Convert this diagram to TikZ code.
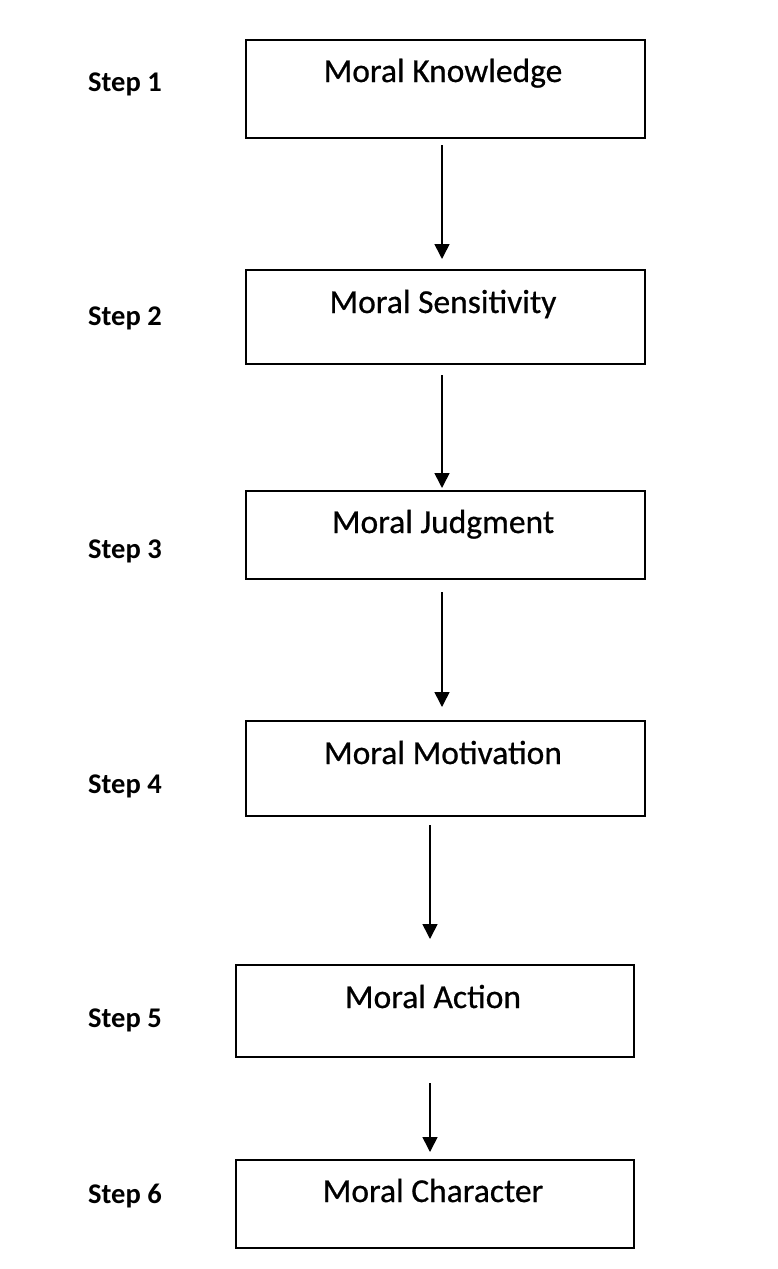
\documentclass[tikz,border=0pt]{standalone}
\usepackage{fontspec}
\setmainfont{Carlito}
\newfontfamily\boxfont[FakeBold=0.6]{Carlito}
\usetikzlibrary{arrows.meta}
\tikzset{
  stepbox/.style={draw=black, line width=2pt, inner sep=0pt, outer sep=0pt, anchor=north west, fill=none},
  boxtext/.style={anchor=base, inner sep=0pt, font=\boxfont\fontsize{33.5}{38}\selectfont},
  steplabel/.style={anchor=base west, inner sep=0pt, font=\bfseries\fontsize{28.5}{32}\selectfont},
  flow/.style={line width=1.6pt, -{Triangle[width=15pt,length=15pt]}}
}
\begin{document}
\begin{tikzpicture}[x=1pt,y=-1pt]
\useasboundingbox[fill=white] (0,0) rectangle (778,1269);
% boxes
\node[stepbox, minimum width=399pt, minimum height=98pt] (b1) at (246,40) {};
\node[stepbox, minimum width=399pt, minimum height=94pt] (b2) at (246,270) {};
\node[stepbox, minimum width=399pt, minimum height=88pt] (b3) at (246,491) {};
\node[stepbox, minimum width=399pt, minimum height=95pt] (b4) at (246,721) {};
\node[stepbox, minimum width=398pt, minimum height=92pt] (b5) at (236,965) {};
\node[stepbox, minimum width=398pt, minimum height=88pt] (b6) at (236,1160) {};
% box texts
\node[boxtext] (t1) at (443,82) {Moral Knowledge};
\node[boxtext] (t2) at (443,313) {Moral Sensitivity};
\node[boxtext] (t3) at (443,533) {Moral Judgment};
\node[boxtext] (t4) at (443,764) {Moral Motivation};
\node[boxtext] (t5) at (433,1008) {Moral Action};
\node[boxtext] (t6) at (433,1202) {Moral Character};
% step labels
\node[steplabel] (s1) at (88,91) {Step 1};
\node[steplabel] (s2) at (88,325) {Step 2};
\node[steplabel] (s3) at (88,558) {Step 3};
\node[steplabel] (s4) at (88,793) {Step 4};
\node[steplabel] (s5) at (88,1027) {Step 5};
\node[steplabel] (s6) at (88,1203) {Step 6};
% arrow columns
\coordinate (ca) at (442,0);
\coordinate (cb) at (430,0);
\draw[flow, shorten <=7pt, shorten >=11pt] (b1.south -| ca) -- (b2.north -| ca);
\draw[flow, shorten <=11pt, shorten >=3pt] (b2.south -| ca) -- (b3.north -| ca);
\draw[flow, shorten <=13pt, shorten >=14pt] (b3.south -| ca) -- (b4.north -| ca);
\draw[flow, shorten <=9pt, shorten >=26pt] (b4.south -| cb) -- (b5.north -| cb);
\draw[flow, shorten <=26pt, shorten >=8pt] (b5.south -| cb) -- (b6.north -| cb);
\end{tikzpicture}
\end{document}
